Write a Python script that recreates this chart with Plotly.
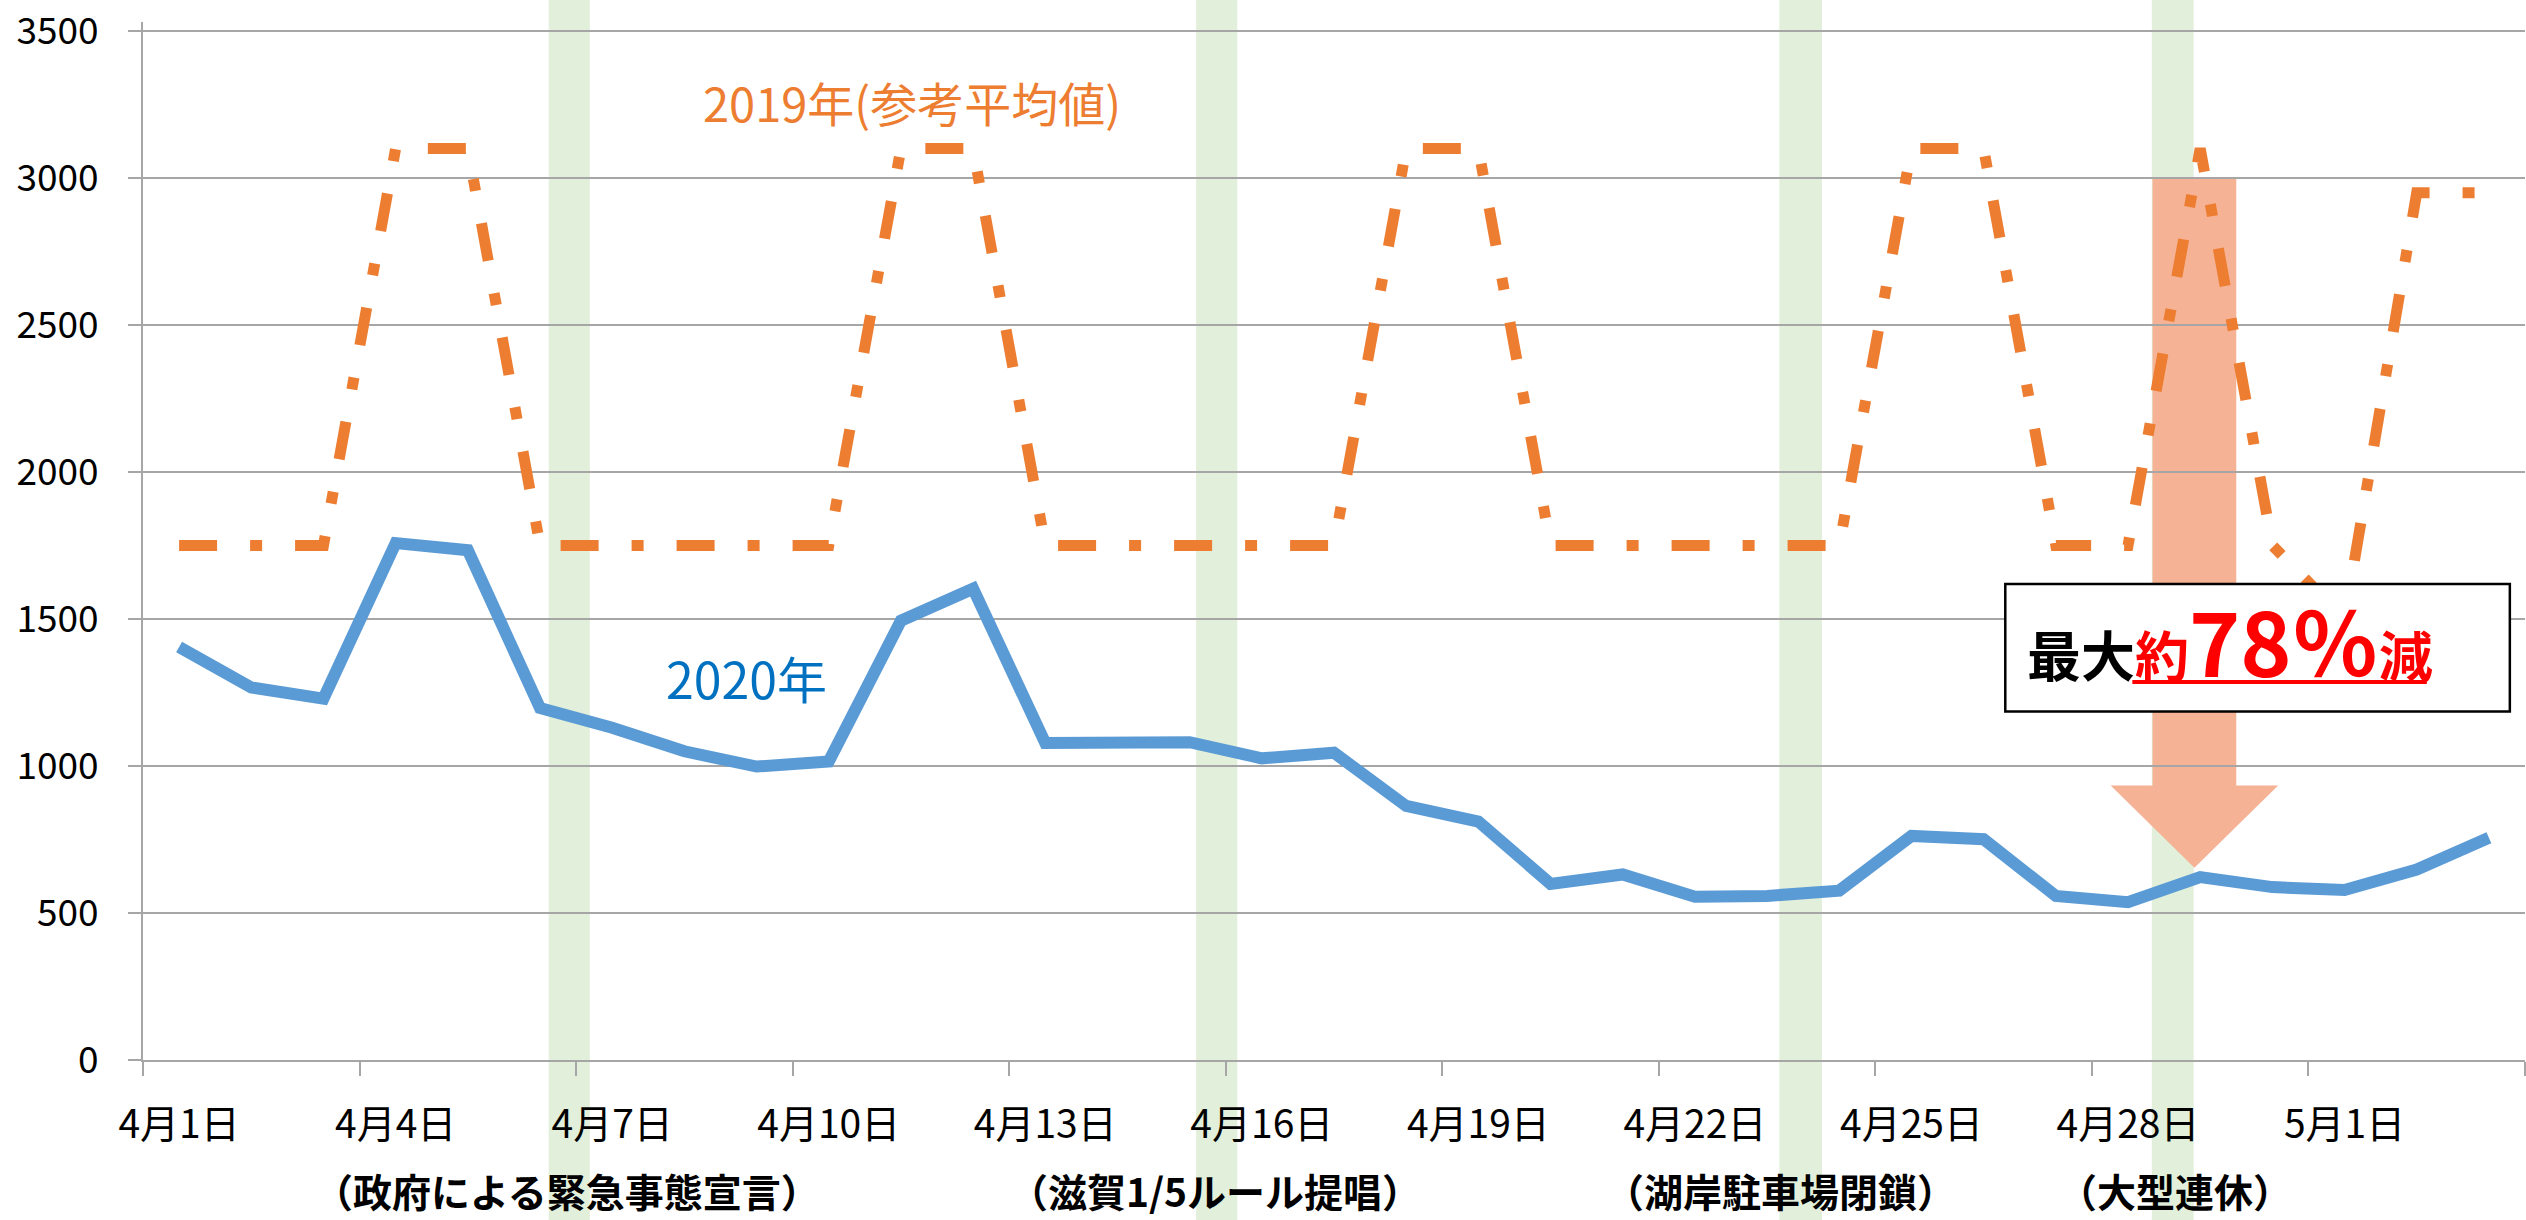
import plotly.graph_objects as go

# ---- data ----
dates = ["4月1日", "4月2日", "4月3日", "4月4日", "4月5日", "4月6日", "4月7日", "4月8日",
         "4月9日", "4月10日", "4月11日", "4月12日", "4月13日", "4月14日", "4月15日",
         "4月16日", "4月17日", "4月18日", "4月19日", "4月20日", "4月21日", "4月22日",
         "4月23日", "4月24日", "4月25日", "4月26日", "4月27日", "4月28日", "4月29日",
         "4月30日", "5月1日", "5月2日", "5月3日"]
v2020 = [1405, 1267, 1229, 1758, 1734, 1197, 1130, 1050, 998, 1015, 1494, 1603, 1078,
         1080, 1081, 1026, 1045, 864, 811, 599, 631, 555, 558, 576, 762, 751, 558, 537,
         622, 588, 578, 648, 756]
v2019 = [1750, 1750, 1750, 3100, 3100, 1750, 1750, 1750, 1750, 1750, 3100, 3100, 1750,
         1750, 1750, 1750, 1750, 3100, 3100, 1750, 1750, 1750, 1750, 1750, 3100, 3100,
         1750, 1750, 3100, 1750, 1500, 2950, 2950]
events = ["（政府による緊急事態宣言）", "（滋賀1/5ルール提唱）", "（湖岸駐車場閉鎖）", "（大型連休）"]
event_pos = [5.37, 14.35, 22.19, 27.65]
band_ranges = [(5.12, 5.69), (14.09, 14.66), (22.17, 22.76), (27.33, 27.91)]
y_ticks = [0, 500, 1000, 1500, 2000, 2500, 3000, 3500]

FONT = "Noto Sans CJK JP"
GRID = "#A6A6A6"
idx = list(range(len(dates)))
n = len(dates)
PLOT_W = 2526 - 143 - 1


def to_paper_x(v):
    # category index -> paper fraction of the x domain
    return (v + 0.5) / n


fig = go.Figure()
fig.add_trace(go.Scatter(
    x=idx, y=v2019, mode="lines", xaxis="x", yaxis="y",
    line=dict(color="#ED7D31", width=11, dash="38px,33px,12px,33px"),
    hoverinfo="skip", showlegend=False))
fig.add_trace(go.Scatter(
    x=idx, y=v2020, mode="lines", xaxis="x2", yaxis="y",
    line=dict(color="#5B9BD5", width=12),
    hoverinfo="skip", showlegend=False))

shapes = []
for x0, x1 in band_ranges:
    shapes.append(dict(type="rect", xref="paper", yref="paper",
                       x0=to_paper_x(x0), x1=to_paper_x(x1), y0=-0.17, y1=1.05,
                       fillcolor="#E2EFDA", line=dict(width=0), layer="below"))
# arrow
shapes.append(dict(type="path", xref="x", yref="y", layer="below",
                   path="M 27.34,3000 L 28.50,3000 L 28.50,934 L 29.08,934 L 27.92,654 "
                        "L 26.76,934 L 27.34,934 Z",
                   fillcolor="#F5B294", line=dict(width=0)))
# top gridline + tick (the edge gridline is not always drawn by plotly)
shapes.append(dict(type="line", xref="paper", yref="y", layer="below",
                   x0=-13 / PLOT_W, x1=1, y0=y_ticks[-1], y1=y_ticks[-1],
                   line=dict(color=GRID, width=2)))
# text box
shapes.append(dict(type="rect", xref="x", yref="y", layer="above",
                   x0=25.30, x1=32.29, y0=1185, y1=1619,
                   fillcolor="white", line=dict(color="black", width=2.5)))
# underline
shapes.append(dict(type="line", xref="x", yref="y", layer="above",
                   x0=27.06, x1=31.14, y0=1286, y1=1286,
                   line=dict(color="#FF0000", width=4)))

annotations = []
annotations.append(dict(x=10.15, y=3260, xref="x", yref="y", showarrow=False,
                        text="2019年(参考平均値)",
                        font=dict(family=FONT, size=47, color="#ED7D31")))
annotations.append(dict(x=7.86, y=1303, xref="x", yref="y", showarrow=False,
                        text="2020年",
                        font=dict(family=FONT, size=50, color="#0070C0")))
for t, p in zip(events, event_pos):
    annotations.append(dict(x=p, y=-0.154, xref="x", yref="paper", showarrow=False,
                            text="<b>" + t + "</b>",
                            font=dict(family=FONT, size=39, color="black")))
annotations.append(dict(
    x=25.57, y=1432, xref="x", yref="y", showarrow=False,
    xanchor="left", yanchor="middle",
    text="<b><span style='color:black'>最大</span>"
         "<span style='color:#FF0000'>約</span>"
         "<span style='color:#FF0000;font-size:87px'>78％</span>"
         "<span style='color:#FF0000'>減</span></b>",
    font=dict(family=FONT, size=54, color="black")))

boundaries = [i - 0.5 for i in range(0, n + 1, 3)]
label_pos = list(range(0, n, 3))

fig.update_layout(
    width=2526, height=1220,
    margin=dict(l=143, r=1, t=17, b=160),
    paper_bgcolor="white", plot_bgcolor="white",
    shapes=shapes, annotations=annotations,
    xaxis=dict(range=[-0.5, n - 0.5], tickmode="array", tickvals=boundaries,
               showticklabels=False, ticks="outside", ticklen=14, tickwidth=2,
               tickcolor=GRID, showline=True, linecolor=GRID, linewidth=2,
               showgrid=False, zeroline=False, fixedrange=True),
    xaxis2=dict(range=[-0.5, n - 0.5], overlaying="x", anchor="y", side="bottom",
                tickmode="array", tickvals=label_pos,
                ticktext=[dates[i] for i in label_pos],
                ticks="", showline=False, showgrid=False, zeroline=False,
                ticklabelstandoff=38,
                tickfont=dict(family=FONT, size=39, color="black")),
    yaxis=dict(range=[0, 3530.4], tickmode="array", tickvals=y_ticks,
               ticks="outside", ticklen=13, tickwidth=2, tickcolor=GRID,
               showline=True, linecolor=GRID, linewidth=2,
               showgrid=True, gridcolor=GRID, gridwidth=2, zeroline=False,
               ticklabelstandoff=22, ticklabeloverflow="allow",
               tickfont=dict(family=FONT, size=37, color="black")),
)

fig.write_html("out.html",
               config={"displayModeBar": False},
               post_script="document.body.style.margin='0px';"
                           "document.body.style.overflow='hidden';")
